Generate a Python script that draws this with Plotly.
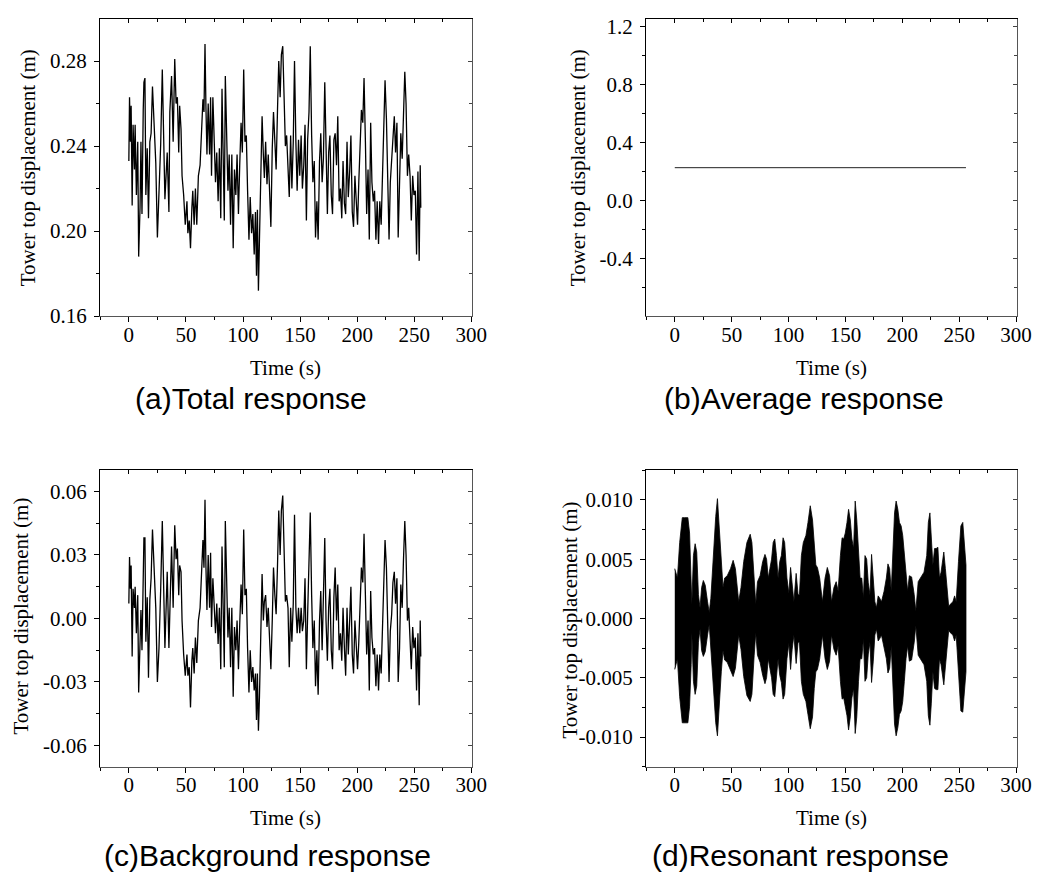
import plotly.graph_objects as go

# ---------------- data ----------------
time_s = [
    0.0, 0.6, 1.4, 2.0, 2.9, 3.7, 4.9, 5.5, 6.6, 7.8,
    8.6, 9.8, 10.6, 11.5, 12.6, 13.2, 14.1, 14.9, 16.1, 17.2,
    18.4, 19.5, 20.7, 22.1, 23.6, 25.0, 26.4, 27.9, 29.3, 31.6,
    33.6, 35.1, 35.9, 37.4, 38.8, 40.2, 41.4, 42.5, 43.7, 44.5,
    45.7, 46.6, 48.0, 49.4, 50.9, 51.7, 52.9, 54.0, 55.2, 56.0,
    57.2, 58.3, 59.5, 60.9, 62.4, 63.8, 64.9, 65.8, 66.7, 67.5,
    68.4, 69.5, 70.7, 71.6, 72.4, 73.6, 74.7, 75.9, 77.0, 78.2,
    79.3, 80.5, 81.6, 82.8, 83.6, 84.5, 85.6, 86.8, 87.9, 89.1,
    90.2, 91.4, 92.5, 93.7, 94.8, 96.0, 97.1, 98.3, 99.4, 100.6,
    101.7, 102.9, 104.0, 105.2, 106.3, 107.5, 108.6, 109.8, 110.9, 111.8,
    112.6, 113.5, 114.4, 115.5, 116.7, 117.8, 118.7, 119.8, 121.0, 122.1,
    123.3, 124.4, 125.6, 126.7, 127.9, 129.0, 130.2, 131.3, 132.5, 133.6,
    134.8, 135.9, 137.1, 138.2, 139.4, 140.5, 141.7, 142.8, 144.0, 145.1,
    146.3, 147.4, 148.6, 149.7, 150.9, 152.0, 153.2, 154.3, 155.5, 156.6,
    157.8, 158.9, 160.1, 161.2, 162.4, 163.5, 164.7, 165.8, 167.0, 168.1,
    169.3, 170.4, 171.6, 172.7, 173.9, 175.0, 176.1, 177.3, 178.4, 179.6,
    180.7, 181.9, 183.0, 184.2, 185.3, 186.5, 187.6, 188.8, 189.9, 191.1,
    192.2, 193.4, 194.5, 195.7, 196.8, 198.0, 199.1, 200.3, 201.4, 202.6,
    203.7, 204.9, 206.0, 207.2, 208.3, 209.5, 210.6, 211.8, 212.9, 214.1,
    215.2, 216.4, 217.5, 218.7, 219.8, 221.0, 222.1, 223.3, 224.4, 225.6,
    226.7, 227.9, 229.0, 230.2, 231.3, 232.5, 233.6, 234.8, 235.9, 237.1,
    238.2, 239.4, 240.5, 241.7, 242.8, 244.0, 245.1, 246.3, 247.4, 248.6,
    249.7, 250.9, 252.0, 253.2, 254.3, 255.2, 255.7,
]

total_disp = [
    0.233, 0.263, 0.242, 0.259, 0.212, 0.250, 0.229, 0.250, 0.217, 0.242,
    0.188, 0.211, 0.242, 0.208, 0.257, 0.270, 0.272, 0.217, 0.239, 0.206,
    0.242, 0.246, 0.268, 0.247, 0.232, 0.197, 0.215, 0.241, 0.276, 0.215,
    0.237, 0.209, 0.256, 0.273, 0.242, 0.281, 0.260, 0.263, 0.237, 0.259,
    0.248, 0.226, 0.217, 0.203, 0.214, 0.199, 0.205, 0.192, 0.211, 0.219,
    0.203, 0.220, 0.203, 0.226, 0.231, 0.253, 0.262, 0.256, 0.288, 0.259,
    0.236, 0.260, 0.236, 0.263, 0.226, 0.263, 0.239, 0.223, 0.237, 0.214,
    0.239, 0.206, 0.267, 0.217, 0.205, 0.273, 0.245, 0.219, 0.236, 0.203,
    0.236, 0.192, 0.229, 0.217, 0.236, 0.208, 0.231, 0.251, 0.237, 0.276,
    0.242, 0.245, 0.219, 0.196, 0.216, 0.199, 0.208, 0.189, 0.209, 0.179,
    0.210, 0.172, 0.196, 0.226, 0.254, 0.236, 0.225, 0.242, 0.222, 0.236,
    0.213, 0.202, 0.239, 0.256, 0.242, 0.229, 0.257, 0.280, 0.263, 0.283,
    0.287, 0.263, 0.240, 0.245, 0.233, 0.216, 0.245, 0.220, 0.242, 0.280,
    0.242, 0.219, 0.243, 0.226, 0.245, 0.220, 0.231, 0.250, 0.205, 0.243,
    0.256, 0.287, 0.245, 0.223, 0.233, 0.197, 0.214, 0.196, 0.233, 0.246,
    0.223, 0.234, 0.270, 0.233, 0.208, 0.237, 0.245, 0.217, 0.208, 0.243,
    0.246, 0.231, 0.254, 0.214, 0.220, 0.206, 0.233, 0.213, 0.208, 0.242,
    0.216, 0.228, 0.245, 0.209, 0.202, 0.226, 0.214, 0.203, 0.223, 0.240,
    0.257, 0.251, 0.272, 0.242, 0.208, 0.229, 0.196, 0.251, 0.223, 0.214,
    0.219, 0.196, 0.214, 0.194, 0.214, 0.203, 0.229, 0.251, 0.271, 0.253,
    0.229, 0.196, 0.223, 0.233, 0.246, 0.254, 0.237, 0.251, 0.197, 0.219,
    0.246, 0.234, 0.260, 0.275, 0.260, 0.226, 0.236, 0.226, 0.205, 0.226,
    0.217, 0.219, 0.189, 0.228, 0.186, 0.231, 0.211,
]

background_disp = [
    0.007, 0.029, 0.014, 0.025, -0.018, 0.014, 0.005, 0.015, -0.007, 0.011,
    -0.035, -0.009, 0.004, -0.015, 0.033, 0.038, 0.038, -0.011, 0.010, -0.028,
    0.009, 0.019, 0.042, 0.019, 0.005, -0.030, -0.014, 0.014, 0.046, -0.014,
    0.022, -0.014, 0.008, 0.034, 0.005, 0.044, 0.028, 0.033, 0.011, 0.025,
    0.022, -0.001, -0.017, -0.027, -0.017, -0.027, -0.023, -0.042, -0.020, -0.014,
    -0.026, -0.009, -0.021, -0.001, 0.005, 0.024, 0.037, 0.024, 0.056, 0.025,
    0.004, 0.030, 0.005, 0.031, -0.004, 0.019, 0.005, -0.007, 0.007, -0.012,
    0.005, -0.024, 0.034, -0.014, -0.023, 0.046, 0.017, -0.009, 0.005, -0.023,
    0.005, -0.037, -0.004, -0.015, -0.001, -0.024, -0.003, 0.016, 0.002, 0.042,
    0.011, 0.014, -0.014, -0.035, -0.015, -0.030, -0.023, -0.034, -0.026, -0.048,
    -0.026, -0.053, -0.037, -0.009, 0.021, -0.001, 0.008, 0.011, -0.004, 0.005,
    -0.011, -0.024, -0.001, 0.024, 0.011, 0.002, 0.025, 0.051, 0.030, 0.051,
    0.058, 0.037, 0.008, 0.011, 0.005, -0.023, 0.005, -0.011, 0.007, 0.049,
    0.005, -0.007, 0.005, -0.007, 0.005, -0.006, -0.001, 0.019, -0.024, 0.002,
    0.027, 0.050, 0.011, -0.014, -0.001, -0.032, -0.015, -0.036, -0.001, 0.013,
    -0.015, 0.005, 0.038, -0.001, -0.020, 0.005, 0.014, -0.015, -0.024, 0.010,
    0.024, -0.001, 0.016, -0.015, -0.007, -0.020, 0.005, -0.014, -0.027, 0.005,
    -0.017, -0.001, 0.015, -0.017, -0.026, -0.001, -0.014, -0.024, -0.011, 0.005,
    0.024, 0.017, 0.040, 0.011, -0.017, -0.001, -0.034, 0.013, -0.009, -0.017,
    -0.014, -0.032, -0.017, -0.034, -0.017, -0.026, -0.001, 0.021, 0.037, 0.024,
    0.002, -0.030, -0.006, 0.002, 0.017, 0.022, 0.007, 0.019, -0.030, -0.014,
    0.016, 0.005, 0.027, 0.046, 0.030, -0.001, 0.005, -0.007, -0.024, -0.004,
    -0.014, -0.009, -0.034, -0.007, -0.041, -0.001, -0.018,
]

mean_time = [0.0, 256.0]
mean_disp = [0.227, 0.227]

# envelope of the resonant response (upper / lower bounds of the dense oscillation)
res_time = [
    0.0, 2.3, 4.3, 6.6, 8.7, 11.5, 13.0, 14.4, 15.0, 16.4,
    17.9, 19.3, 20.8, 22.2, 23.6, 25.1, 26.8, 28.8, 30.3, 31.7,
    33.7, 36.0, 37.5, 38.9, 40.9, 42.4, 43.8, 46.1, 49.0, 51.3,
    53.3, 54.8, 56.2, 58.2, 60.6, 63.4, 66.3, 67.8, 69.8, 71.2,
    72.7, 75.0, 77.3, 79.3, 80.7, 82.2, 83.6, 85.1, 86.5, 87.9,
    89.4, 90.8, 92.3, 93.7, 95.2, 96.6, 98.6, 100.3, 101.8, 103.2,
    104.7, 106.7, 108.4, 109.6, 111.3, 113.0, 115.3, 117.1, 119.1, 121.1,
    122.6, 124.0, 125.4, 127.4, 129.8, 132.1, 134.1, 136.1, 137.8, 139.9,
    141.9, 143.6, 145.6, 147.1, 148.5, 149.9, 151.4, 152.8, 154.3, 155.7,
    157.2, 158.6, 160.0, 161.5, 162.9, 164.4, 165.8, 167.2, 168.7, 170.1,
    171.6, 173.0, 174.5, 175.9, 177.3, 178.8, 180.2, 181.7, 184.0, 186.0,
    187.4, 188.9, 190.3, 191.8, 193.2, 194.6, 196.1, 197.5, 199.0, 200.4,
    201.8, 203.3, 204.7, 206.2, 208.2, 210.5, 211.9, 214.0, 216.3, 219.1,
    221.5, 222.9, 224.3, 225.5, 226.9, 228.4, 229.8, 231.3, 232.7, 234.1,
    236.5, 237.9, 239.3, 240.8, 242.2, 244.5, 246.0, 247.4, 249.4, 251.5,
    253.2, 255.2, 256.0,
]
res_upper = [
    0.0042, 0.0034, 0.0064, 0.0085, 0.0085, 0.0085, 0.0072, 0.0039, 0.0012, 0.0053,
    0.0063, 0.0056, 0.0020, 0.0009, 0.0026, 0.0032, 0.0028, 0.0014, 0.0005, 0.0017,
    0.0053, 0.0086, 0.0101, 0.0081, 0.0045, 0.0026, 0.0034, 0.0036, 0.0042, 0.0049,
    0.0042, 0.0026, 0.0014, 0.0026, 0.0048, 0.0064, 0.0071, 0.0064, 0.0031, 0.0012,
    0.0031, 0.0036, 0.0048, 0.0054, 0.0050, 0.0034, 0.0042, 0.0050, 0.0064, 0.0067,
    0.0053, 0.0034, 0.0048, 0.0053, 0.0068, 0.0064, 0.0034, 0.0021, 0.0043, 0.0026,
    0.0014, 0.0038, 0.0020, 0.0020, 0.0053, 0.0064, 0.0070, 0.0081, 0.0095, 0.0083,
    0.0059, 0.0045, 0.0043, 0.0034, 0.0014, 0.0034, 0.0043, 0.0036, 0.0014, 0.0026,
    0.0031, 0.0023, 0.0053, 0.0068, 0.0067, 0.0072, 0.0081, 0.0092, 0.0083, 0.0067,
    0.0059, 0.0099, 0.0083, 0.0053, 0.0034, 0.0034, 0.0017, 0.0053, 0.0050, 0.0030,
    0.0020, 0.0054, 0.0036, 0.0014, 0.0009, 0.0019, 0.0017, 0.0014, 0.0023, 0.0034,
    0.0046, 0.0042, 0.0023, 0.0059, 0.0089, 0.0099, 0.0092, 0.0081, 0.0078, 0.0070,
    0.0053, 0.0034, 0.0023, 0.0036, 0.0035, 0.0020, 0.0006, 0.0031, 0.0035, 0.0039,
    0.0053, 0.0081, 0.0089, 0.0072, 0.0045, 0.0059, 0.0059, 0.0060, 0.0034, 0.0039,
    0.0056, 0.0042, 0.0026, 0.0010, 0.0012, 0.0014, 0.0019, 0.0014, 0.0048, 0.0078,
    0.0081, 0.0056, 0.0045,
]
res_lower = [
    -0.0043, -0.0034, -0.0066, -0.0088, -0.0088, -0.0088, -0.0074, -0.0039, -0.0012, -0.0053,
    -0.0064, -0.0057, -0.0020, -0.0009, -0.0027, -0.0032, -0.0028, -0.0014, -0.0005, -0.0017,
    -0.0054, -0.0088, -0.0099, -0.0081, -0.0045, -0.0027, -0.0035, -0.0037, -0.0043, -0.0049,
    -0.0042, -0.0026, -0.0014, -0.0026, -0.0049, -0.0065, -0.0070, -0.0064, -0.0031, -0.0012,
    -0.0031, -0.0037, -0.0048, -0.0055, -0.0050, -0.0034, -0.0042, -0.0050, -0.0064, -0.0066,
    -0.0053, -0.0034, -0.0048, -0.0054, -0.0068, -0.0064, -0.0034, -0.0021, -0.0043, -0.0026,
    -0.0014, -0.0038, -0.0020, -0.0020, -0.0053, -0.0064, -0.0070, -0.0081, -0.0093, -0.0083,
    -0.0059, -0.0045, -0.0043, -0.0034, -0.0014, -0.0034, -0.0043, -0.0036, -0.0014, -0.0026,
    -0.0031, -0.0023, -0.0053, -0.0068, -0.0067, -0.0072, -0.0082, -0.0094, -0.0083, -0.0067,
    -0.0059, -0.0097, -0.0083, -0.0053, -0.0034, -0.0034, -0.0017, -0.0053, -0.0050, -0.0030,
    -0.0020, -0.0054, -0.0036, -0.0014, -0.0009, -0.0019, -0.0017, -0.0014, -0.0023, -0.0034,
    -0.0046, -0.0042, -0.0023, -0.0059, -0.0089, -0.0099, -0.0092, -0.0081, -0.0078, -0.0070,
    -0.0053, -0.0034, -0.0023, -0.0036, -0.0035, -0.0020, -0.0006, -0.0031, -0.0035, -0.0039,
    -0.0053, -0.0082, -0.0090, -0.0072, -0.0045, -0.0059, -0.0060, -0.0060, -0.0034, -0.0039,
    -0.0056, -0.0042, -0.0026, -0.0010, -0.0012, -0.0014, -0.0019, -0.0014, -0.0048, -0.0078,
    -0.0079, -0.0056, -0.0045,
]

# tick values / labels
x_tickvals = [0, 50, 100, 150, 200, 250, 300]
x_ticktext = ["0", "50", "100", "150", "200", "250", "300"]
ya_tickvals = [0.16, 0.20, 0.24, 0.28]
ya_ticktext = ["0.16", "0.20", "0.24", "0.28"]
yb_tickvals = [-0.4, 0.0, 0.4, 0.8, 1.2]
yb_ticktext = ["-0.4", "0.0", "0.4", "0.8", "1.2"]
yc_tickvals = [-0.06, -0.03, 0.0, 0.03, 0.06]
yc_ticktext = ["-0.06", "-0.03", "0.00", "0.03", "0.06"]
yd_tickvals = [-0.010, -0.005, 0.0, 0.005, 0.010]
yd_ticktext = ["-0.010", "-0.005", "0.000", "0.005", "0.010"]

captions = ["(a)Total response", "(b)Average response",
            "(c)Background response", "(d)Resonant response"]
x_title = "Time (s)"
y_title = "Tower top displacement (m)"

# ---------------- layout geometry ----------------
W, H = 1044, 878
SERIF = "Liberation Serif"
SANS = "Liberation Sans"
FS_TICK = 21
FS_TITLE = 21

def px_x(p):
    return p / W

def px_y(p):
    return 1 - p / H

left_dom = [px_x(93.3), px_x(470.7)]
right_dom = [px_x(647.3), px_x(1023.3)]
top_dom = [px_y(310.0), px_y(7.3)]
bot_dom = [px_y(768.7), px_y(466.7)]

panels = [
    dict(xd=left_dom, yd=top_dom, yr=[0.1599, 0.2997], tv=ya_tickvals, tt=ya_ticktext, mdt=0.02, m0=0.16),
    dict(xd=right_dom, yd=top_dom, yr=[-0.797, 1.25], tv=yb_tickvals, tt=yb_ticktext, mdt=0.2, m0=0.0),
    dict(xd=left_dom, yd=bot_dom, yr=[-0.07, 0.07], tv=yc_tickvals, tt=yc_ticktext, mdt=0.015, m0=0.0),
    dict(xd=right_dom, yd=bot_dom, yr=[-0.0125, 0.0125], tv=yd_tickvals, tt=yd_ticktext, mdt=0.0025, m0=0.0),
]
x_range = [-25.3, 300.5]

fig = go.Figure()

fig.add_trace(go.Scatter(x=time_s, y=total_disp, mode="lines",
                         line=dict(color="black", width=1.3), xaxis="x", yaxis="y"))
fig.add_trace(go.Scatter(x=mean_time, y=mean_disp, mode="lines",
                         line=dict(color="#222222", width=1), xaxis="x2", yaxis="y2"))
fig.add_trace(go.Scatter(x=time_s, y=background_disp, mode="lines",
                         line=dict(color="black", width=1.3), xaxis="x3", yaxis="y3"))
fig.add_trace(go.Scatter(x=res_time + res_time[::-1], y=res_upper + res_lower[::-1],
                         mode="lines", fill="toself", fillcolor="black",
                         line=dict(color="black", width=0.8), xaxis="x4", yaxis="y4"))
# empty traces that bring the mirror (top / right) axes into existence
for i in range(4):
    fig.add_trace(go.Scatter(x=[None], y=[None], mode="lines", hoverinfo="skip",
                             xaxis=f"x{i + 5}", yaxis=f"y{i + 5}"))

layout = dict(
    width=W, height=H, margin=dict(l=0, r=0, t=0, b=0),
    paper_bgcolor="white", plot_bgcolor="white", showlegend=False,
    font=dict(family=SERIF, size=FS_TICK, color="black"),
)

tickfont = dict(family=SERIF, size=FS_TICK, color="black")
for i, p in enumerate(panels):
    n = i + 1
    sfx = "" if n == 1 else str(n)
    layout[f"xaxis{sfx}"] = dict(
        domain=p["xd"], anchor=f"y{sfx}", range=x_range,
        tickmode="array", tickvals=x_tickvals, ticktext=x_ticktext,
        ticks="outside", ticklen=5, tickwidth=1, tickcolor="black",
        minor=dict(tickmode="linear", tick0=0, dtick=25, ticks="outside",
                   ticklen=3, tickwidth=1, tickcolor="black", showgrid=False),
        showline=True, linecolor="#555555", linewidth=1,
        showgrid=False, zeroline=False, tickfont=tickfont, ticklabelstandoff=-6,
    )
    layout[f"yaxis{sfx}"] = dict(
        domain=p["yd"], anchor=f"x{sfx}", range=p["yr"],
        tickmode="array", tickvals=p["tv"], ticktext=p["tt"],
        ticks="outside", ticklen=5, tickwidth=1, tickcolor="black",
        minor=dict(tickmode="linear", tick0=p["m0"], dtick=p["mdt"], ticks="outside",
                   ticklen=3, tickwidth=1, tickcolor="black", showgrid=False),
        showline=True, linecolor="black", linewidth=1,
        showgrid=False, zeroline=False, tickfont=tickfont, ticklabelstandoff=3,
    )
    m = i + 5
    layout[f"xaxis{m}"] = dict(
        overlaying=f"x{sfx}", anchor=f"y{sfx}", side="top", range=x_range,
        tickmode="array", tickvals=x_tickvals, showticklabels=False,
        ticks="inside", ticklen=4, tickwidth=1, tickcolor="black",
        minor=dict(tickmode="linear", tick0=0, dtick=25, ticks="inside",
                   ticklen=3, tickwidth=1, tickcolor="black", showgrid=False),
        showline=True, linecolor="black", linewidth=1,
        showgrid=False, zeroline=False,
    )
    layout[f"yaxis{m}"] = dict(
        overlaying=f"y{sfx}", anchor=f"x{sfx}", side="right", range=p["yr"],
        tickmode="array", tickvals=p["tv"], showticklabels=False,
        ticks="inside", ticklen=4, tickwidth=1, tickcolor="#444444",
        minor=dict(tickmode="linear", tick0=p["m0"], dtick=p["mdt"], ticks="inside",
                   ticklen=3, tickwidth=1, tickcolor="#444444", showgrid=False),
        showline=True, linecolor="#555555", linewidth=1,
        showgrid=False, zeroline=False,
    )

annotations = []
# x axis titles
for cx, cy in [(282, 363), (835, 363), (282, 821), (835, 821)]:
    annotations.append(dict(text=x_title, x=px_x(cx), y=px_y(cy), xref="paper", yref="paper",
                            xanchor="center", yanchor="middle", showarrow=False,
                            font=dict(family=SERIF, size=FS_TITLE, color="black")))
# y axis titles
for cx, cy in [(20, 158.5), (578, 158.5), (13, 615), (570, 619)]:
    annotations.append(dict(text=y_title, x=px_x(cx), y=px_y(cy), xref="paper", yref="paper",
                            xanchor="center", yanchor="middle", showarrow=False, textangle=-90,
                            font=dict(family=SERIF, size=FS_TITLE, color="black")))
# captions
for txt, (cx, cy) in zip(captions, [(247, 394), (808, 394), (263, 859), (804, 859)]):
    annotations.append(dict(text=txt, x=px_x(cx), y=px_y(cy), xref="paper", yref="paper",
                            xanchor="center", yanchor="middle", showarrow=False,
                            font=dict(family=SANS, size=30, color="black")))
layout["annotations"] = annotations

fig.update_layout(**layout)
fig.write_html("out.html")
